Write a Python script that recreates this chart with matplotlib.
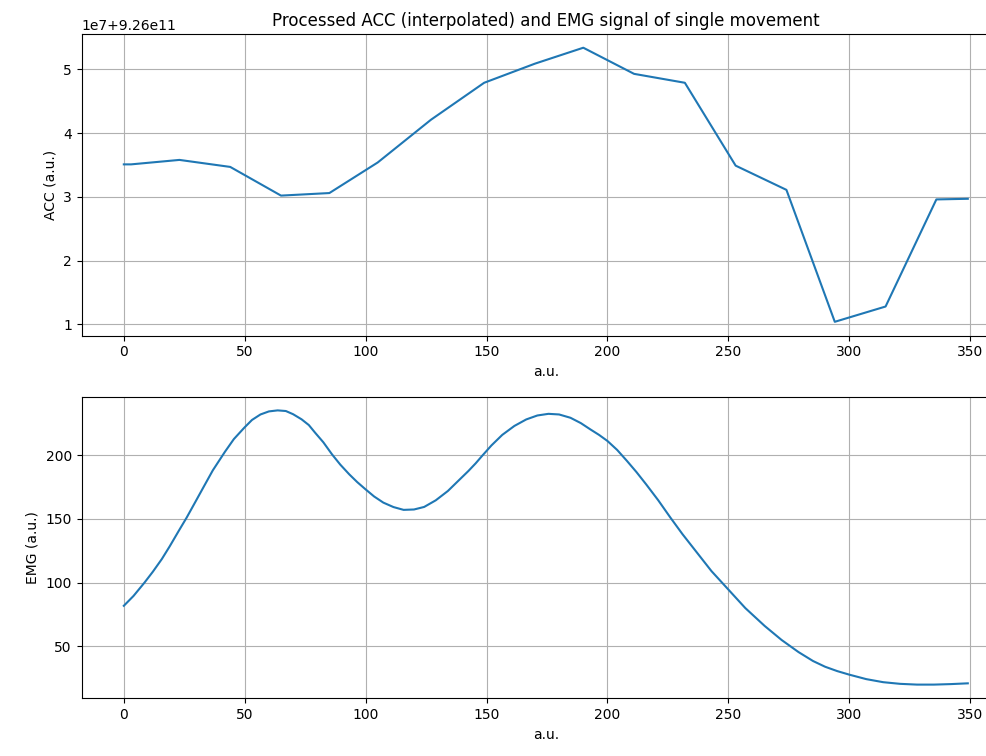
import numpy as np
import matplotlib
matplotlib.use("Agg")
import matplotlib.pyplot as plt

# ACC vertices (value in 1e7 units above 9.26e11)
acc_x = [0, 3, 23, 44, 65, 85, 105, 127, 149, 170, 190, 211, 232, 253, 274, 294, 315, 336, 349]
acc_v = [3.51, 3.51, 3.58, 3.47, 3.02, 3.06, 3.54, 4.21, 4.79, 5.09, 5.34, 4.93, 4.79, 3.49, 3.11, 1.04, 1.28, 2.96, 2.97]

# EMG curve
emg_x = [0, 4, 8.6, 12, 15.7, 19, 22.7, 26, 29.8, 33, 36.8, 41.8, 45.5, 49.8, 53, 56.5, 60, 63.6, 67,
         70, 73.5, 76.5, 79.1, 82.5, 86.1, 89.5, 93.2, 96.5, 99.9, 103.5, 107.3, 111.5, 115.7, 120,
         124.2, 129, 134, 138, 142.5, 145.5, 148.1, 152, 156.5, 161.5, 166.4, 171, 175.6, 180, 184.7,
         189, 193, 196.5, 200, 204, 208, 212, 216, 221, 226, 231, 237, 243, 250, 257, 265, 272, 279,
         285, 290, 295, 300, 307, 314, 321, 328, 335, 342, 349]
emg_y = [81.8, 89.5, 100.1, 108.5, 118.4, 128.5, 140.5, 151, 164, 175, 188, 202.5, 212.5, 221.4, 227.5,
         231.8, 234.2, 235, 234.5, 232, 228, 223.5, 217.5, 210, 200.5, 192.5, 184.9, 178.8, 173.2, 167.5,
         162.7, 159.2, 157, 157.3, 159.3, 164.5, 171.8, 179.2, 187.5, 193.5, 199.2, 207.5, 215.8, 222.8,
         227.9, 231, 232.3, 231.8, 229.2, 225, 220, 215.8, 211, 204, 195.5, 186.6, 177, 164.5, 151, 138,
         123.5, 109, 94.5, 80, 66, 55, 45.5, 38.5, 34, 30.6, 27.8, 24.3, 21.9, 20.6, 20, 20, 20.4, 21]

acc = [9.26e11 + v * 1e7 for v in acc_v]

fig = plt.figure(figsize=(9.87, 7.56), dpi=100)

ax1 = fig.add_axes([0.0827, 0.5562, 0.9406, 0.3988])
ax1.plot(acc_x, acc, color="tab:blue")
ax1.set_title("Processed ACC (interpolated) and EMG signal of single movement")
ax1.set_xlabel("a.u.")
ax1.set_ylabel("ACC (a.u.)")
ax1.grid(True)

ax2 = fig.add_axes([0.0827, 0.0763, 0.9406, 0.3990])
ax2.plot(emg_x, emg_y, color="tab:blue")
ax2.set_xlabel("a.u.")
ax2.set_ylabel("EMG (a.u.)")
ax2.grid(True)

fig.savefig("out.png", dpi=100)
